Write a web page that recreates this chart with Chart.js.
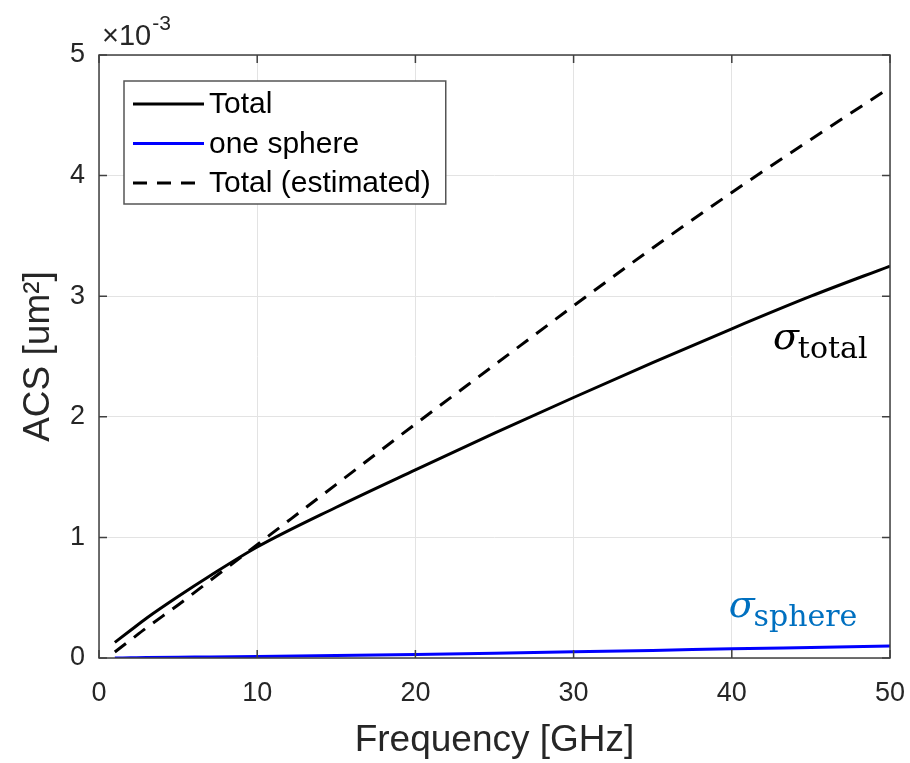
<!DOCTYPE html>
<html>
<head>
<meta charset="utf-8">
<script src="https://cdn.jsdelivr.net/npm/chart.js@4/dist/chart.umd.min.js"></script>
<style>
  html, body { margin: 0; padding: 0; background: #ffffff; }
  #wrap { width: 910px; height: 763px; }
</style>
</head>
<body>
<div id="wrap"><canvas id="acsChart" width="910" height="763"></canvas></div>
<script>
// frequency samples in GHz
var freqs = [1, 2, 3, 5, 7, 10, 15, 20, 25, 30, 35, 40, 45, 50];

// ACS values in units of 1e-3 um^2
var totalAcs     = [0.13, 0.23, 0.33, 0.51, 0.68, 0.92, 1.25, 1.56, 1.865, 2.16, 2.45, 2.73, 3.00, 3.25];
var sphereAcs    = [0.000, 0.002, 0.004, 0.007, 0.009, 0.013, 0.021, 0.030, 0.040, 0.051, 0.063, 0.076, 0.088, 0.100];
var estimatedAcs = [0.05, 0.15, 0.25, 0.44, 0.64, 0.94, 1.44, 1.94, 2.43, 2.92, 3.40, 3.86, 4.30, 4.73];

var xTicks = [0, 10, 20, 30, 40, 50];
var yTicks = [0, 1, 2, 3, 4, 5];

var axisColor = '#262626';
var sansFont = '"Liberation Sans", Arial, sans-serif';

function toPoints(values) {
    var pts = [];
    for (let i = 0; i < freqs.length; i++) {
        pts.push({ x: freqs[i], y: values[i] });
    }
    return pts;
}

// box, inward ticks, legend, exponent and curve labels (MATLAB look)
var decorPlugin = {
    id: 'decor',
    afterDraw(chart) {
        var ctx = chart.ctx;
        var area = chart.chartArea;
        var xs = chart.scales.x;
        var ys = chart.scales.y;
        ctx.save();

        // axes box
        ctx.strokeStyle = '#404040';
        ctx.lineWidth = 1.5;
        ctx.strokeRect(area.left, area.top, area.right - area.left, area.bottom - area.top);

        // inward tick marks on all four sides
        var tl = 8;
        ctx.beginPath();
        xTicks.forEach(v => {
            var px = xs.getPixelForValue(v);
            ctx.moveTo(px, area.bottom); ctx.lineTo(px, area.bottom - tl);
            ctx.moveTo(px, area.top); ctx.lineTo(px, area.top + tl);
        });
        yTicks.forEach(v => {
            var py = ys.getPixelForValue(v);
            ctx.moveTo(area.left, py); ctx.lineTo(area.left + tl, py);
            ctx.moveTo(area.right, py); ctx.lineTo(area.right - tl, py);
        });
        ctx.stroke();

        // exponent above the y axis
        ctx.fillStyle = axisColor;
        ctx.textBaseline = 'alphabetic';
        ctx.textAlign = 'left';
        ctx.font = '29px ' + sansFont;
        ctx.fillText('\u00d710', area.left + 3, 45);
        var w = ctx.measureText('\u00d710').width;
        ctx.font = '21px ' + sansFont;
        ctx.fillText('-3', area.left + 3 + w + 1, 30);

        // legend
        var lx = area.left + 25, ly = area.top + 26;
        ctx.font = '30px ' + sansFont;
        var maxW = 0;
        chart.data.datasets.forEach(ds => { maxW = Math.max(maxW, ctx.measureText(ds.label).width); });
        var boxW = 86 + maxW + 14, boxH = 123;
        ctx.fillStyle = '#ffffff';
        ctx.fillRect(lx, ly, boxW, boxH);
        ctx.strokeStyle = '#555555';
        ctx.lineWidth = 1.5;
        ctx.strokeRect(lx, ly, boxW, boxH);
        chart.data.datasets.forEach((ds, i) => {
            var rowY = ly + 23 + i * 39.5;
            ctx.beginPath();
            ctx.strokeStyle = ds.borderColor;
            ctx.lineWidth = ds.borderWidth;
            ctx.setLineDash(ds.borderDash || []);
            ctx.moveTo(lx + 9, rowY);
            ctx.lineTo(lx + 80, rowY);
            ctx.stroke();
            ctx.setLineDash([]);
            ctx.fillStyle = '#000000';
            ctx.textBaseline = 'middle';
            ctx.fillText(ds.label, lx + 85, rowY + 1);
        });

        // curve labels
        ctx.textBaseline = 'alphabetic';
        function sigmaLabel(sub, color, fx, fy) {
            var px = xs.getPixelForValue(fx);
            var py = ys.getPixelForValue(fy);
            ctx.fillStyle = color;
            ctx.font = 'italic 38px "DejaVu Serif", serif';
            ctx.fillText('\u03c3', px, py);
            var sw = ctx.measureText('\u03c3').width;
            ctx.font = '30px "DejaVu Serif", serif';
            ctx.fillText(sub, px + sw - 1, py + 9);
        }
        sigmaLabel('total', '#000000', 42.6, 2.56);
        sigmaLabel('sphere', '#0070c0', 39.8, 0.34);

        ctx.restore();
    }
};

new Chart(document.getElementById('acsChart'), {
    type: 'line',
    data: {
        datasets: [{
            label: 'Total',
            data: toPoints(totalAcs),
            borderColor: '#000000',
            borderWidth: 3
        }, {
            label: 'one sphere',
            data: toPoints(sphereAcs),
            borderColor: '#0000ff',
            borderWidth: 3
        }, {
            label: 'Total (estimated)',
            data: toPoints(estimatedAcs),
            borderColor: '#000000',
            borderWidth: 3,
            borderDash: [14, 10]
        }]
    },
    options: {
        responsive: false,
        animation: false,
        events: [],
        elements: {
            point: { radius: 0 },
            line: { cubicInterpolationMode: 'monotone', fill: false }
        },
        layout: { padding: { top: 55, right: 20, left: 0, bottom: 0 } },
        plugins: {
            legend: { display: false },
            tooltip: { enabled: false }
        },
        scales: {
            x: {
                type: 'linear',
                min: 0,
                max: 50,
                afterBuildTicks: scale => { scale.ticks = xTicks.map(v => ({ value: v })); },
                afterFit: scale => {
                    scale.height = 105;
                    // keep the plot box fixed; end labels may hang over the edges
                    scale.paddingLeft = 0;
                    scale.paddingRight = 0;
                },
                grid: { color: '#e3e3e3', lineWidth: 1, drawTicks: false },
                border: { display: false },
                ticks: { color: axisColor, font: { family: sansFont, size: 27 }, padding: 19, maxRotation: 0 },
                title: {
                    display: true,
                    text: 'Frequency [GHz]',
                    color: axisColor,
                    font: { family: sansFont, size: 37 },
                    padding: { top: 10, bottom: 0 }
                }
            },
            y: {
                type: 'linear',
                min: 0,
                max: 5,
                afterBuildTicks: scale => { scale.ticks = yTicks.map(v => ({ value: v })); },
                afterFit: scale => {
                    scale.width = 99;
                    scale.paddingTop = 0;
                    scale.paddingBottom = 0;
                },
                grid: { color: '#e3e3e3', lineWidth: 1, drawTicks: false },
                border: { display: false },
                ticks: { color: axisColor, font: { family: sansFont, size: 27 }, padding: 14 },
                title: {
                    display: true,
                    text: 'ACS [um\u00b2]',
                    color: axisColor,
                    font: { family: sansFont, size: 37 },
                    padding: { top: 17, bottom: 0 }
                }
            }
        }
    },
    plugins: [decorPlugin]
});
</script>
</body>
</html>
